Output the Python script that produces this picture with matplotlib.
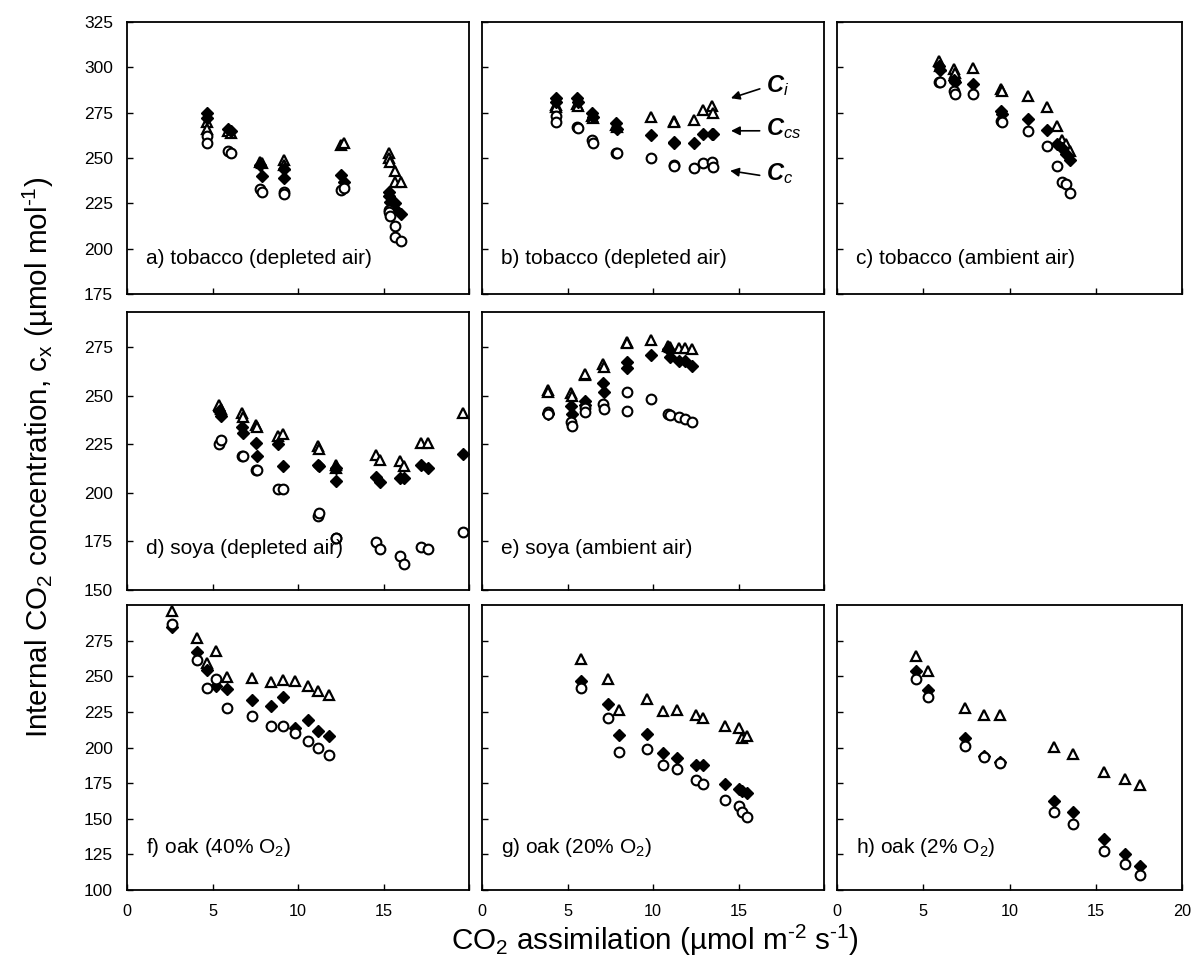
import matplotlib
matplotlib.use("Agg")
import matplotlib.pyplot as plt
from matplotlib import font_manager

# values: x = CO2 assimilation, then ci, ccs, cc
A_X = [4.65, 4.7, 5.9, 6.1, 7.8, 7.9, 9.2, 9.2, 12.5, 12.7,
       15.3, 15.35, 15.4, 15.65, 15.7, 16.0]
A_CI = [270, 266, 265, 264, 248, 247, 249, 246, 257, 258.5,
        253, 250, 248, 243, 237, 236.5]
A_CCS = [275, 272, 266, 265, 246, 240, 244, 239, 240.5, 237,
         231.5, 229, 226, 225, 222, 219]
A_CC = [262, 258, 254, 253, 233, 231.5, 231, 230, 232.5, 233.5,
        221.5, 220, 218, 212.5, 206.5, 204.5]

B_X = [4.3, 4.35, 5.55, 5.6, 6.45, 6.5, 7.85, 7.9, 9.87, 11.2, 11.25,
       12.4, 12.9, 13.45, 13.5]
B_CI = [279, 278, 280, 278.5, 273, 272, 268, 267, 272.5, 270.5, 270,
        271, 276.5, 278.5, 275]
B_CCS = [283, 281, 283, 281, 275, 272.5, 269.5, 266, 262.5, 259, 258,
         258, 263, 263, 263.5]
B_CC = [273, 270, 267, 266.5, 260, 258, 253, 252.5, 250, 246, 245.5,
        244.5, 247, 248, 245]

C_X = [5.9, 5.95, 6.8, 6.85, 7.9, 9.5, 9.55, 11.05, 12.15, 12.75,
       13.05, 13.3, 13.5]
C_CI = [303.5, 301, 299, 297, 299.5, 288, 287, 284, 278, 267.5,
        260, 257.5, 254]
C_CCS = [300.5, 298.5, 293, 292, 291, 276, 274, 271.5, 265.5, 257.5,
         255.5, 252, 249]
C_CC = [292, 292, 287, 285.5, 285.5, 270.5, 270, 265, 256.5, 245.5,
        236.5, 235.5, 230.5]

D_X = [5.4, 5.5, 6.75, 6.8, 7.55, 7.6, 8.85, 9.15, 11.15, 11.2, 12.2,
       12.25, 14.55, 14.8, 15.95, 16.2, 17.2, 17.6, 19.65]
D_CI = [245, 243, 241, 239, 235, 234, 229, 230, 224, 222.5, 214.5,
        213, 219.5, 217, 216.5, 214, 225.5, 225.5, 241]
D_CCS = [242, 239.5, 234, 231, 225.5, 219, 225, 214, 214.5, 214, 213,
         206, 208, 205.5, 207.5, 207.5, 214.5, 212.5, 220]
D_CC = [225, 227, 219, 219, 211.5, 211.5, 202, 202, 188, 189.5, 176.5,
        177, 174.5, 171, 167.5, 163.5, 172, 171, 180]

E_X = [3.85, 3.85, 5.2, 5.25, 6.0, 6.05, 7.1, 7.15, 8.5, 8.5, 9.9,
       10.9, 11.0, 11.5, 11.9, 12.3]
E_CI = [253, 252, 251.5, 250, 260.5, 261, 266.5, 264.5, 277.5, 277,
        278.5, 275.5, 275, 274.5, 274.5, 274]
E_CCS = [241, 240.5, 244.5, 240.5, 247, 245, 256.5, 252, 267.5, 264,
         271, 274, 270, 268, 268, 265]
E_CC = [241.5, 240.5, 236.5, 234.5, 243.5, 241.5, 245.5, 243, 252, 242,
        248, 240.5, 240, 239, 238, 236.5]

F_X = [2.65, 4.1, 4.7, 5.2, 5.85, 7.3, 8.45, 9.1, 9.8, 10.6, 11.15, 11.8]
F_CI = [295.5, 277, 259, 267.5, 249.5, 249, 246, 247.5, 246.5, 243.5,
        240, 236.5]
F_CCS = [284.5, 267, 254.5, 243.5, 241, 233.5, 229, 235.5, 214, 219,
         211.5, 208]
F_CC = [286.5, 261.5, 241.5, 248, 228, 222, 215, 215, 210.5, 204.5,
        200, 194.5]

G_X = [5.8, 7.35, 8.0, 9.65, 10.6, 11.4, 12.5, 12.95, 14.2, 15.05,
       15.2, 15.5]
G_CI = [262, 248, 226, 234, 225.5, 226.5, 222.5, 221, 215, 214,
        206.5, 208]
G_CCS = [247, 230.5, 208.5, 209.5, 196, 192.5, 187.5, 188, 174.5, 171,
         169.5, 168]
G_CC = [241.5, 221, 197, 199, 187.5, 185, 177.5, 174.5, 163, 159,
        155, 151.5]

H_X = [4.6, 5.25, 7.4, 8.5, 9.45, 12.6, 13.7, 15.5, 16.7, 17.55]
H_CI = [264.5, 253.5, 228, 223, 222.5, 200.5, 195.5, 183, 178, 173.5]
H_CCS = [254, 240.5, 206.5, 194, 190, 162.5, 155, 135.5, 125.5, 116.5]
H_CC = [248, 235.5, 201, 193, 189, 154.5, 146.5, 127.5, 118, 110.5]

LABELS = ["a) tobacco (depleted air)", "b) tobacco (depleted air)",
          "c) tobacco (ambient air)", "d) soya (depleted air)",
          "e) soya (ambient air)", r"f) oak (40% O$_2$)",
          r"g) oak (20% O$_2$)", r"h) oak (2% O$_2$)"]

ROW_YLIM = [(175, 325), (150, 293), (100, 300)]
ROW_YTICKS = [list(range(175, 326, 25)), list(range(150, 276, 25)),
              list(range(100, 276, 25))]
XTICKS = [0, 5, 10, 15, 20]

W, H = 1194, 963
COL_PX = [(127, 469), (482, 824), (837, 1182)]
ROW_PX = [(22, 294), (312, 590), (605, 890)]

names = {f.name for f in font_manager.fontManager.ttflist}
NARROW = "Liberation Sans Narrow" if "Liberation Sans Narrow" in names else "Liberation Sans"
SQUEEZE = 1.0 if NARROW == "Liberation Sans Narrow" else 0.82

plt.rcParams["font.family"] = ["Liberation Sans", "DejaVu Sans"]
plt.rcParams["mathtext.fontset"] = "custom"
plt.rcParams["mathtext.rm"] = "Liberation Sans"
plt.rcParams["mathtext.it"] = "Liberation Sans:italic"
plt.rcParams["mathtext.bf"] = "Liberation Sans:bold:italic"


def make_axes(fig, row, col):
    x0, x1 = COL_PX[col]
    top, bot = ROW_PX[row]
    return fig.add_axes([x0 / W, 1 - bot / H, (x1 - x0) / W, (bot - top) / H])


def plot_panel(ax, x, ci, ccs, cc, label, row, col):
    # triangles under diamonds, open circles on top
    ax.plot(x, ci, ls="none", marker="^", ms=7.5, mfc="white", mec="k", mew=1.6)
    ax.plot(x, ccs, ls="none", marker="D", ms=6.3, mfc="k", mec="k")
    ax.plot(x, cc, ls="none", marker="o", ms=7, mfc="white", mec="k", mew=1.5)

    ax.set_xlim(0, 20)
    ax.set_ylim(*ROW_YLIM[row])
    ax.set_xticks(XTICKS)
    ax.set_yticks(ROW_YTICKS[row])
    for s in ax.spines.values():
        s.set_linewidth(1.3)
    ax.tick_params(direction="in", length=4, width=1, labelsize=12.5, pad=10)

    if col == 0:
        ax.set_yticklabels([str(v) for v in ROW_YTICKS[row]])
    else:
        ax.set_yticklabels([])

    if row == 2:
        lab = ["0", "5", "10", "15", "20" if col == 2 else ""]
        ax.set_xticklabels(lab, family=NARROW, fontsize=13 * SQUEEZE + 1)
        ax.tick_params(axis="x", pad=10)
    else:
        ax.set_xticklabels([])

    yf = [0.13, 0.15, 0.15][row]
    ax.text(0.055, yf, label, transform=ax.transAxes, fontsize=15, va="center")


fig = plt.figure(figsize=(W / 100, H / 100), dpi=100)

panels = [
    (0, 0, A_X, A_CI, A_CCS, A_CC),
    (0, 1, B_X, B_CI, B_CCS, B_CC),
    (0, 2, C_X, C_CI, C_CCS, C_CC),
    (1, 0, D_X, D_CI, D_CCS, D_CC),
    (1, 1, E_X, E_CI, E_CCS, E_CC),
    (2, 0, F_X, F_CI, F_CCS, F_CC),
    (2, 1, G_X, G_CI, G_CCS, G_CC),
    (2, 2, H_X, H_CI, H_CCS, H_CC),
]

axes = {}
for k, (r, c, x, ci, ccs, cc) in enumerate(panels):
    ax = make_axes(fig, r, c)
    plot_panel(ax, x, ci, ccs, cc, LABELS[k], r, c)
    axes[(r, c)] = ax

# arrows naming the three series in panel b
axb = axes[(0, 1)]
arrow = dict(arrowstyle="-|>", color="k", lw=1.2, mutation_scale=13)
for txt, tail, head in [(r"$\mathbf{C}_{\mathit{i}}$", (16.4, 288.6), (14.4, 282.5)),
                        (r"$\mathbf{C}_{\mathit{cs}}$", (16.4, 265.0), (14.4, 265.0)),
                        (r"$\mathbf{C}_{\mathit{c}}$", (16.4, 240.2), (14.35, 243.2))]:
    axb.annotate("", xy=head, xytext=tail, arrowprops=arrow)
    axb.text(16.6, tail[1] + 1.5, txt, fontsize=17, va="center", ha="left")

fig.text(0.5 * (127 + 1182) / W, 1 - 940 / H,
         r"CO$_2$ assimilation (µmol m$^{\text{-2}}$ s$^{\text{-1}}$)",
         family=NARROW, fontsize=26 * SQUEEZE, ha="center", va="center")
fig.text(38 / W, 1 - 457 / H,
         r"Internal CO$_2$ concentration, c$_\mathrm{x}$ (µmol mol$^{\text{-1}}$)",
         family=NARROW, fontsize=26 * SQUEEZE, rotation=90, ha="center", va="center")

fig.savefig("out.png", dpi=100)
